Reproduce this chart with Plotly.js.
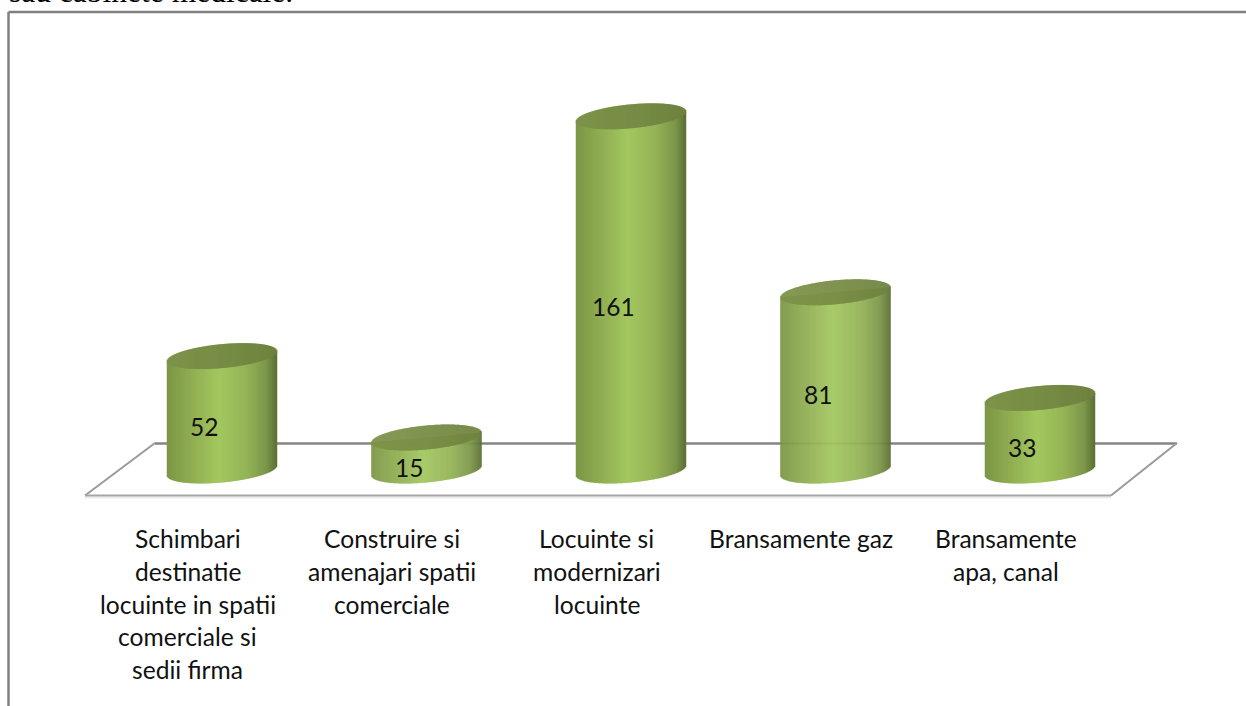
<!DOCTYPE html>
<html>
<head>
<meta charset="utf-8">
<script src="https://cdn.plot.ly/plotly-3.0.1.min.js"></script>
<style>html,body{margin:0;padding:0;background:#fff;overflow:hidden}#chart{width:1246px;height:706px}</style>
</head>
<body>
<div id="chart"></div>
<script>
var categories = ["Schimbari destinatie locuinte in spatii comerciale si sedii firma","Construire si amenajari spatii comerciale","Locuinte si modernizari locuinte","Bransamente gaz","Bransamente apa, canal"];
var labelLines = [
  ["Schimbari","destinatie","locuinte in spatii","comerciale si","sedii firma"],
  ["Construire si","amenajari spatii","comerciale"],
  ["Locuinte si","modernizari","locuinte"],
  ["Bransamente gaz"],
  ["Bransamente","apa, canal"]
];
var values = [52, 15, 161, 81, 33];
var introText = "sau cabinete medicale.";

// pixel geometry of the frame
var W = 1246, H = 706;
var x0px = 222, stepPx = 204.5, y0px = 470.5, pxPerUnit = 2.2;
var halfPx = 55, tiltPx = 5, ryPx = 12;
function dx(px){ return (px - x0px) / stepPx; }
function dy(px){ return (y0px - px) / pxPerUnit; }

function hex(c){ return [parseInt(c.substr(1,2),16),parseInt(c.substr(3,2),16),parseInt(c.substr(5,2),16)]; }
function ramp(stops,u){
  for(var i=1;i<stops.length;i++){
    if(u<=stops[i][0]){
      var a=stops[i-1],b=stops[i],t=(u-a[0])/(b[0]-a[0]),ca=hex(a[1]),cb=hex(b[1]);
      return 'rgb('+[0,1,2].map(function(k){return Math.round(ca[k]+(cb[k]-ca[k])*t);}).join(',')+')';
    }
  }
  return stops[stops.length-1][1];
}
var sideStops = [[-1,'#7b9545'],[-0.6,'#8dab50'],[-0.05,'#a3c75f'],[0.45,'#94b356'],[0.8,'#7c974a'],[1,'#5c7034']];
var capStops  = [[-1,'#7d9349'],[0,'#778c44'],[1,'#6e823e']];

var sx=[],sy=[],sb=[],sw=[],sc=[], cx=[],cy=[],cb=[],cw=[],cc=[];
var sliceW = 1.5/stepPx;
values.forEach(function(v,i){
  for(var p=-halfPx;p<halfPx;p++){
    var u=(p+0.5)/halfPx, r=Math.sqrt(1-u*u)*ryPx, t=tiltPx*u;
    var bottom=(t-r)/pxPerUnit, topMid=v+t/pxPerUnit;
    sx.push(i+(p+0.5)/stepPx); sb.push(bottom); sy.push(topMid-bottom); sw.push(sliceW); sc.push(ramp(sideStops,u));
    cx.push(i+(p+0.5)/stepPx); cb.push(v+(t-r)/pxPerUnit); cy.push(2*r/pxPerUnit); cw.push(sliceW); cc.push(ramp(capStops,u));
  }
});

var traces=[
  {type:'bar',x:sx,y:sy,base:sb,width:sw,marker:{color:sc,opacity:1,line:{width:0}},opacity:1,hoverinfo:'skip',showlegend:false},
  {type:'bar',x:cx,y:cy,base:cb,width:cw,marker:{color:cc,opacity:1,line:{width:0}},opacity:1,hoverinfo:'skip',showlegend:false}
];

var fontFam='Lato, "Open Sans", sans-serif';
var annotations=[];
values.forEach(function(v,i){
  annotations.push({x:i-18/stepPx,y:v/2-6,xref:'x',yref:'y',text:String(v),showarrow:false,xanchor:'center',yanchor:'middle',font:{family:fontFam,size:24.5,color:'#111'}});
});
labelLines.forEach(function(lines,i){
  lines.forEach(function(t,k){
    annotations.push({x:i+dx(187.5),y:dy(538.5+32.8*k),xref:'x',yref:'y',text:t,showarrow:false,xanchor:'center',yanchor:'middle',font:{family:fontFam,size:24.6,color:'#111'}});
  });
});
annotations.push({xref:'paper',yref:'paper',x:7/W,y:1-11/H,text:introText,showarrow:false,xanchor:'left',yanchor:'bottom',font:{family:'"Liberation Serif", serif',size:31.5,color:'#000'}});

function seg(px0,py0,px1,py1,col,w){
  return {type:'line',layer:'below',xref:'x',yref:'y',x0:dx(px0),y0:dy(py0),x1:dx(px1),y1:dy(py1),line:{color:col,width:w||2}};
}
var shapes=[
  seg(85,497.5,1111,497.5,'#ececec',2),
  seg(155,443.5,1177,443.5,'#858585',2.5),
  seg(155,443,85,495.5,'#9a9a9a',2),
  seg(1177,443,1111,495.5,'#9a9a9a',2),
  seg(85,495.5,1111,495.5,'#a6a6a6',2),
  {type:'line',xref:'paper',yref:'paper',x0:8.5/W,x1:1,y0:1-12/H,y1:1-12/H,line:{color:'#808080',width:2.5}},
  {type:'line',xref:'paper',yref:'paper',x0:8.5/W,x1:8.5/W,y0:1-12/H,y1:0,line:{color:'#808080',width:2.5}}
];

var layout={
  width:W,height:H,margin:{l:0,r:0,t:0,b:0},paper_bgcolor:'#fff',plot_bgcolor:'#fff',
  barmode:'overlay',showlegend:false,
  xaxis:{visible:false,type:'linear',range:[dx(0),dx(W)],fixedrange:true},
  yaxis:{visible:false,type:'linear',range:[dy(H),dy(0)],fixedrange:true},
  annotations:annotations,shapes:shapes
};
Plotly.newPlot('chart',traces,layout,{displayModeBar:false,staticPlot:true});
</script>
</body>
</html>
